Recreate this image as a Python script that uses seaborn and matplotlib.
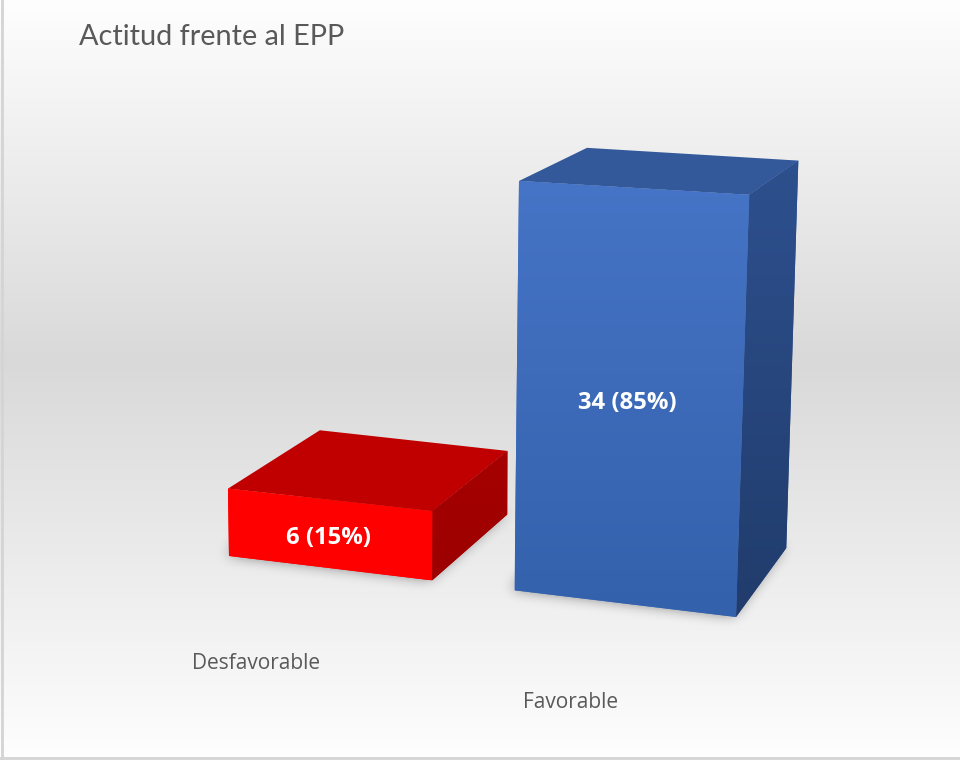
import numpy as np
import pandas as pd
import matplotlib
matplotlib.use("Agg")
import matplotlib.pyplot as plt
import matplotlib.transforms as mtransforms
from matplotlib.patches import Polygon
from matplotlib.path import Path
from matplotlib.colors import to_rgb
import seaborn as sns

# ---------------- data ----------------
categories = ["Desfavorable", "Favorable"]
counts = [6, 34]
percents = [15, 85]
title_text = "Actitud frente al EPP"

# ---------------- style ----------------
front_top = ["#FF0000", "#4674C6"]
front_bottom = ["#FF0000", "#3461AB"]
top_face = ["#C00000", "#33599A"]
side_top = ["#A60000", "#2D508E"]
side_bottom = ["#9C0000", "#213C6C"]
text_gray = "#595959"

W_PX, H_PX = 960, 760

# perspective "camera" (vanishing points in figure pixels)
VP_U = (-6310.0, -231.0)
VP_V = (395.0, 11556.0)
ORIGIN = (329.0, 568.0)
A_U = -0.04248
B_V = -0.0010297
VP_D = (1348.0, -223.0)
DEPTH = 0.082


def project(u, v, t=0.0):
    u = np.atleast_1d(np.asarray(u, float))
    v = np.atleast_1d(np.asarray(v, float))
    w = 1.0 + A_U * u + B_V * v
    x = (A_U * u * VP_U[0] + B_V * v * VP_V[0] + ORIGIN[0]) / w
    y = (A_U * u * VP_U[1] + B_V * v * VP_V[1] + ORIGIN[1]) / w
    x = x + t * (VP_D[0] - x)
    y = y + t * (VP_D[1] - y)
    return np.column_stack([x, H_PX - y])


class Perspective(mtransforms.Transform):
    input_dims = 2
    output_dims = 2
    is_separable = False
    has_inverse = False

    def __init__(self, t=0.0):
        super().__init__()
        self.t = t

    def transform_non_affine(self, values):
        values = np.asarray(values, float).reshape(-1, 2)
        return project(values[:, 0], values[:, 1], self.t)


def grad_img(c_top, c_bot, n=256):
    a = np.array(to_rgb(c_top))
    b = np.array(to_rgb(c_bot))
    f = np.linspace(0, 1, n)[:, None]
    return (a * (1 - f) + b * f)[:, None, :]


def blur(a, r, passes=3):
    k = np.ones(2 * r + 1) / (2 * r + 1)
    for _ in range(passes):
        a = np.apply_along_axis(lambda m: np.convolve(m, k, mode="same"), 0, a)
        a = np.apply_along_axis(lambda m: np.convolve(m, k, mode="same"), 1, a)
    return a


def soft_shadow(target_ax, pts, r=6, alpha=0.5, pad=45, shift=(-3, 2)):
    pts = np.asarray(pts) + np.asarray(shift)
    x0, y0 = np.floor(pts.min(0) - pad)
    x1, y1 = np.ceil(pts.max(0) + pad)
    xs = np.arange(x0, x1) + 0.5
    ys = np.arange(y0, y1) + 0.5
    XX, YY = np.meshgrid(xs, ys)
    m = Path(pts).contains_points(np.column_stack([XX.ravel(), YY.ravel()]))
    m = blur(m.reshape(XX.shape).astype(float), r)
    rgba = np.zeros(m.shape + (4,))
    rgba[..., 3] = np.clip(m, 0, 1) * alpha
    target_ax.imshow(rgba, extent=[x0, x1, y0, y1], origin="lower",
                     interpolation="bilinear", aspect="auto", zorder=2)


sns.set_theme(style="white")
plt.rcParams["font.family"] = ["Open Sans", "DejaVu Sans"]

fig = plt.figure(figsize=(9.6, 7.6), dpi=100)

# background gradient + frame
bg = fig.add_axes([0, 0, 1, 1], zorder=0)
rows = np.arange(H_PX)
vals = np.interp(rows, [0, 360, 760], [254, 217, 254]) / 255.0
bg.imshow(np.repeat(vals[:, None, None], 3, axis=2), extent=[0, W_PX, 0, H_PX],
          aspect="auto", interpolation="bilinear", origin="upper", zorder=1)
bg.plot([1.5, 1.5], [0, H_PX], color="#d4d4d4", lw=2, zorder=3)
bg.plot([0, W_PX], [2.5, 2.5], color="#d4d4d4", lw=2, zorder=3)

# seaborn bars (front faces)
ax = fig.add_axes([0, 0, 1, 1], zorder=1)
ax.set_facecolor("none")
df = pd.DataFrame({"Actitud": categories, "Frecuencia": counts})
sns.barplot(data=df, x="Actitud", y="Frecuencia", hue="Actitud", palette=front_top,
            saturation=1, width=0.72, legend=False, ax=ax, linewidth=0)
ax.axis("off")

canvas = fig.add_axes([0, 0, 1, 1], zorder=2)
canvas.set_facecolor("none")

bars = sorted(ax.patches, key=lambda p: p.get_x())
persp = Perspective(0.0)
label_shift = mtransforms.Affine2D().translate(0, -4)
cat_shift = mtransforms.Affine2D().translate(0, -3)
for i, bar in enumerate(bars):
    x0 = bar.get_x()
    x1 = x0 + bar.get_width()
    xc = x0 + bar.get_width() / 2
    h = bar.get_height()
    bar.set_transform(persp)
    bar.set_clip_on(False)
    bar.set_linewidth(0)

    ftl, ftr, fbr, fbl = project([x0, x1, x1, x0], [h, h, 0, 0], 0.0)
    btl, btr, bbr, bbl = project([x0, x1, x1, x0], [h, h, 0, 0], DEPTH)

    # soft shadow under the footprint
    soft_shadow(bg, [fbl, fbr, bbr, bbl])

    # top face
    canvas.add_patch(Polygon([ftl, ftr, btr, btl], closed=True, facecolor=top_face[i], lw=0))
    # side face
    side = Polygon([ftr, fbr, bbr, btr], closed=True, facecolor=side_top[i], lw=0)
    canvas.add_patch(side)
    pts = np.array([ftr, fbr, bbr, btr])
    im = canvas.imshow(grad_img(side_top[i], side_bottom[i]),
                       extent=[pts[:, 0].min(), pts[:, 0].max(), pts[:, 1].min(), pts[:, 1].max()],
                       aspect="auto", origin="upper", interpolation="bilinear", zorder=1)
    im.set_clip_path(side)
    # front gradient, clipped to the projected seaborn bar
    fpts = np.array([ftl, ftr, fbr, fbl])
    im2 = canvas.imshow(grad_img(front_top[i], front_bottom[i]),
                        extent=[fpts[:, 0].min(), fpts[:, 0].max(), fpts[:, 1].min(), fpts[:, 1].max()],
                        aspect="auto", origin="upper", interpolation="bilinear", zorder=1)
    im2.set_clip_path(bar.get_path(), bar.get_transform())

    # data label
    canvas.text(xc, h / 2, f"{counts[i]} ({percents[i]}%)", transform=persp + label_shift,
                ha="center", va="center", color="white", fontsize=17.2,
                fontweight="bold", zorder=5)
    # category label
    canvas.text(xc, -2.9, categories[i], transform=Perspective(-0.072) + cat_shift,
                ha="center", va="center", color=text_gray, fontsize=15, zorder=5)

canvas.set_xlim(0, W_PX)
canvas.set_ylim(0, H_PX)
canvas.axis("off")
bg.set_xlim(0, W_PX)
bg.set_ylim(0, H_PX)
bg.axis("off")

fig.text(79 / W_PX, 1 - 45 / H_PX, title_text, ha="left", va="baseline",
         fontsize=20.8, color=text_gray, family=["Lato", "DejaVu Sans"])

fig.savefig("out.png", dpi=100)
